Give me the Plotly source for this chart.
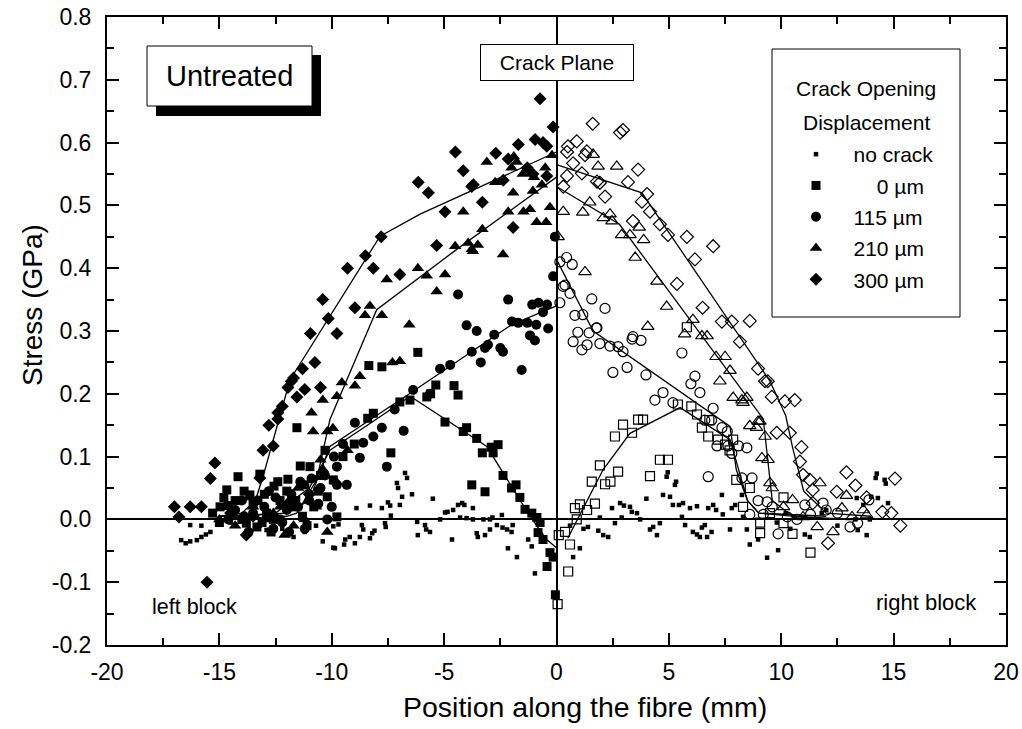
import plotly.graph_objects as go

# ---------------- data ----------------
nc_x = [-16.7,-16.5,-16.3,-16.0,-15.8,-15.6,-15.4,-16.3,-15.8,-12.9,-11.7,-9.93,-14.5,-13.8,-13.2,-12.2,-11.2,-10.7,-10.4,
        -9.93,-9.7,-9.4,-9.2,-9.86,-9.45,-8.97,-8.66,-8.6,-8.75,-8.3,-8.2,-8.1,-8.9,-8.3,-7.77,-7.5,-7.4,-6.97,-6.87,-6.43,
        -7.1,-7.05,-6.74,-6.65,-7.37,-7.63,-7.6,-6.2,-6.17,-5.85,-5.8,-5.63,-5.5,-5.18,-4.96,-4.85,-4.6,-4.38,-4.2,-4.1,
        -4.65,-4.29,-4.0,-3.72,-3.72,-3.55,-3.5,-3.18,-3.25,-2.96,-2.85,-2.96,-2.65,-2.43,-2.4,-2.2,-2.0,-1.95,-2.16,-1.76,
        -1.26,-1.1,-0.96,
        1.04,0.74,0.6,1.2,1.4,1.93,1.86,2.08,2.3,2.47,2.83,3.0,3.27,3.35,3.58,2.9,2.6,3.72,4.0,4.16,4.3,4.47,4.6,4.9,4.95,
        5.27,5.32,4.74,5.05,5.18,5.45,5.63,5.58,5.72,5.94,6.25,6.07,6.25,6.38,6.47,6.6,6.7,6.9,6.75,6.97,7.1,7.36,7.4,7.72,
        7.8,7.95,8.25,8.3,8.47,8.6,9.37,8.97,
        14.25,14.2,14.6,14.65,14.75,14.3,14.0,13.65,13.36,13.94,13.4,13.8,11.27,11.05,11.0,10.6,11.8,12.0,13.3,9.8,9.86,
        10.2,12.5,10.4]
nc_y = [-0.033,-0.038,-0.035,-0.033,-0.028,-0.024,-0.02,-0.009,-0.01,-0.017,-0.028,-0.045,-0.005,0.005,-0.01,-0.015,-0.02,-0.01,-0.035,
        -0.011,-0.008,-0.032,-0.028,-0.046,-0.04,-0.038,-0.009,-0.016,-0.028,-0.03,-0.022,-0.018,0.018,0.022,0.018,0.027,0.022,0.023,0.036,0.04,
        0.058,0.05,0.074,0.066,0.006,-0.006,-0.012,-0.004,-0.025,-0.009,-0.016,-0.02,0.033,0.0,0.011,0.012,0.015,0.023,0.026,0.023,
        -0.032,0.003,0.002,0.0,0.018,-0.022,-0.028,-0.025,0.0,0.0,0.003,-0.016,-0.009,0.007,-0.013,-0.016,-0.02,-0.009,-0.046,-0.06,
        -0.032,-0.043,-0.086,
        -0.046,-0.06,-0.01,-0.015,-0.012,0.003,-0.018,-0.025,-0.028,0.018,0.026,0.022,0.02,0.012,0.01,0.003,-0.006,0.0,0.033,-0.016,-0.012,-0.025,-0.006,0.068,0.075,
        0.055,0.06,0.039,0.036,0.023,0.023,0.026,0.004,-0.009,0.018,0.021,-0.02,-0.024,-0.028,-0.013,-0.009,-0.028,-0.02,0.018,0.023,0.015,0.039,0.008,-0.016,
        0.018,0.023,0.039,0.004,-0.016,-0.04,-0.061,-0.032,
        0.073,0.066,0.063,0.057,0.026,0.034,0.036,0.023,0.034,0.0,-0.017,-0.025,-0.028,-0.024,0.003,0.003,0.01,0.015,0.0,-0.005,-0.049,
        0.01,-0.01,-0.015]

c0L_x = [-6.17,-8.35,-7.77,-5.37,-4.56,-4.38,-5.77,-5.6,-6.52,-6.97,-8.15,-8.4,-4.96,-4.0,-3.55,-2.6,-2.9,-4.15,-3.3,-2.82,-7.37,
         -3.77,-3.18,-2.38,-2.0,-1.8,-1.63,-1.4,-1.1,-0.87,-0.73,-0.82,-0.6,-0.29,-0.42,-0.15,-0.05,
         -11.55,-14.17,-12.57,-11.4,-11.95,-13.2,-14.97,-14.67,-14.3,-13.64,-13.8,-13.33,-12.9,-11.1,-10.97,-10.5,-10.2,-9.93,
         -9.77,-12.3,-11.8,-15.3,-14.0,-12.7,-9.5,-9.0,-10.3,
         -14.8,-14.4,-13.9,-13.5,-13.0,-12.6,-12.0,-11.6,-11.2,-10.8,-10.6,-15.0,-14.6,-13.1,-12.4,-11.3]
c0L_y = [0.266,0.245,0.243,0.214,0.213,0.198,0.195,0.2,0.19,0.187,0.169,0.161,0.155,0.146,0.129,0.119,0.115,0.14,0.106,0.106,0.106,
         0.055,0.044,0.07,0.05,0.055,0.035,0.016,0.01,0.003,-0.005,-0.021,-0.032,-0.053,-0.075,-0.06,-0.12,
         0.146,0.068,0.053,0.085,0.064,0.072,0.02,0.047,0.03,0.039,-0.006,-0.012,0.01,-0.01,0.084,0.07,0.036,0.063,
         0.004,0.03,0.02,0.01,0.0,-0.02,0.1,0.12,0.11,
         0.035,0.01,0.045,0.025,0.04,0.0,0.045,0.03,0.055,0.02,0.045,-0.005,0.022,-0.005,0.06,0.005]
c0R_x = [3.63,3.85,2.96,2.6,3.36,4.6,4.96,1.93,5.4,5.8,6.0,6.25,6.8,6.47,6.75,7.18,7.5,7.86,7.7,2.74,1.57,2.16,2.4,4.16,
         1.04,0.82,1.36,1.71,0.9,0.38,0.6,0.52,0.1,9.06,8.0,8.6,10.1,10.5,11.3,9.06,10.1,0.05,8.3,9.5]
c0R_y = [0.159,0.159,0.151,0.132,0.138,0.095,0.095,0.086,0.183,0.306,0.18,0.167,0.158,0.146,0.132,0.127,0.119,0.127,0.11,0.076,0.06,0.056,0.06,0.069,
         0.024,0.018,0.015,0.025,0.0,-0.02,-0.04,-0.083,-0.025,-0.022,0.063,0.05,0.035,-0.023,-0.053,-0.005,-0.006,-0.135,0.02,0.01]

c115L_x = [-4.38,-2.15,-1.08,-0.8,-0.42,-0.15,-0.6,-1.98,-1.7,-1.3,-0.9,-0.37,-1.18,-0.96,-4.0,-3.55,-2.77,-3.05,-3.18,-2.5,-2.38,
           -3.77,-3.37,-4.73,-5.18,-1.55,-6.38,-7.2,-7.77,-8.15,-8.6,-6.8,-5.63,-8.97,-0.07,-8.75,-7.55,-9.33,-9.77,-9.77,-9.5,
           -9.9,-10.5,-11.0,-11.5,-12.0,-12.5,-13.0,-13.5,-14.0,-10.2,-11.2,-12.2,-13.7,-14.6,-10.0,
           -13.3,-12.8,-12.3,-11.8,-11.4,-10.9,-10.6,-10.3,-12.6,-11.9,-14.3,-13.9]
c115L_y = [0.358,0.35,0.342,0.345,0.342,0.387,0.33,0.315,0.313,0.313,0.31,0.304,0.293,0.285,0.309,0.3,0.294,0.278,0.273,0.273,0.267,
           0.267,0.25,0.246,0.24,0.238,0.206,0.175,0.146,0.132,0.122,0.141,0.2,0.154,0.45,0.098,0.084,0.055,0.055,0.084,0.12,
           0.1,0.05,0.03,0.02,0.015,0.035,0.02,0.01,0.03,0.0,-0.015,-0.005,-0.02,0.0,0.02,
           0.03,0.045,0.0,0.04,0.06,0.065,0.025,0.07,-0.015,-0.02,0.015,0.005]
c115R_x = [0.45,0.7,0.15,0.3,0.6,0.15,1.57,2.16,0.82,1.17,0.95,1.77,3.4,0.38,1.8,1.45,0.74,1.13,1.36,1.93,2.38,2.74,2.96,
           3.36,3.76,2.51,3.14,3.98,5.58,6.16,5.98,6.38,4.74,4.38,5.18,6.97,6.6,6.9,7.36,7.6,7.14,7.63,7.8,8.47,
           6.75,8.1,8.25,8.7,8.6,8.97,9.2,9.37,9.6,9.86,11.05,11.3,11.86,12.5,13.06,13.4,13.9,10.27,12.0,10.7]
c115R_y = [0.417,0.406,0.41,0.371,0.36,0.345,0.351,0.336,0.325,0.326,0.298,0.305,0.291,0.373,0.305,0.297,0.283,0.27,0.278,0.28,0.276,0.275,0.267,
           0.287,0.285,0.234,0.242,0.23,0.265,0.228,0.216,0.202,0.202,0.19,0.186,0.177,0.158,0.158,0.146,0.14,0.117,0.117,0.105,0.114,
           0.068,0.117,0.066,0.066,0.008,0.03,0.008,0.028,0.02,-0.023,0.023,0.008,0.026,0.01,-0.012,-0.006,0.031,0.004,0.015,0.0]

c210L_x = [-7.55,-6.17,-5.77,-4.96,-5.33,-3.72,-2.38,-8.3,-8.52,-7.77,-6.55,-7.3,-6.97,-8.75,-8.97,-9.55,-9.77,
           -3.1,-1.77,-2.73,-1.93,-4.15,-2.15,-1.47,-1.18,-0.29,-0.88,-0.46,-3.3,-4.51,-3.93,-3.5,-3.77,-1.9,-0.65,-1.05,
           -1.0,-0.5,-1.5,-2.0,-0.2,
           -10.4,-10.9,-10.83,-10.2,-9.95,-10.5,-10.4,-14.3,-12.3,-12.1,-11.5,-11.0,-13.0,-10.2,-11.7,-9.8,-13.5,-15.0,-9.3,
           -12.6,-11.9,-11.2,-10.7,-13.7]
c210L_y = [0.382,0.40,0.388,0.39,0.363,0.427,0.422,0.34,0.325,0.325,0.31,0.25,0.252,0.228,0.213,0.218,0.196,
           0.569,0.569,0.537,0.52,0.49,0.49,0.49,0.494,0.497,0.473,0.473,0.462,0.435,0.44,0.437,0.43,0.578,0.533,0.523,
           0.545,0.56,0.55,0.56,0.58,
           0.19,0.17,0.14,0.14,0.145,0.095,0.08,-0.01,0.02,-0.025,0.05,0.03,0.0,-0.02,-0.01,0.06,0.02,0.0,0.11,
           0.01,0.03,0.0,0.02,0.035]
c210R_x = [1.63,1.85,2.68,0.3,1.17,1.48,2.08,2.38,2.47,2.9,3.27,3.68,3.88,3.5,4.47,4.9,4.06,5.7,6.07,0.07,1.27,
           6.47,6.7,7.1,7.5,7.72,7.27,7.86,8.25,8.47,8.3,8.6,8.97,8.9,9.28,9.14,9.41,9.05,
           9.5,9.6,11.72,12.9,10.5,10.1,12.7,12.3,13.65,13.15,10.97,11.6,13.8]
c210R_y = [0.581,0.562,0.562,0.49,0.489,0.505,0.48,0.486,0.475,0.453,0.453,0.465,0.445,0.417,0.379,0.339,0.307,0.295,0.318,0.45,0.394,
           0.292,0.292,0.259,0.259,0.237,0.22,0.194,0.19,0.194,0.186,0.149,0.156,0.146,0.132,0.098,0.095,0.156,
           0.058,0.05,0.058,0.038,0.031,0.02,0.018,-0.02,0.015,0.004,0.004,-0.012,0.007]

c300L_x = [-15.55,-15.2,-15.4,-17.0,-16.8,-16.3,-15.8,-13.8,-13.06,-12.6,-12.8,-12.4,-12.4,-12.2,-11.95,-11.55,-11.8,-11.2,-10.5,-13.2,
           -8.5,-9.3,-8.15,-10.4,-8.97,-10.15,-10.95,-9.77,-10.75,-11.3,-11.7,-6.97,-7.8,
           -0.73,-0.15,-4.5,-2.7,-1.7,-0.95,-0.6,-0.43,-4.15,-2.15,-6.15,-5.7,-3.7,-3.77,-4.96,-3.3,-2.37,-1.3,-1.05,-0.43,
           -1.93,-5.33,-14.5,-13.5,-12.0,-11.0]
c300L_y = [-0.10,0.09,0.065,0.02,0.004,0.02,0.02,-0.025,0.11,0.117,0.15,0.16,0.17,0.18,0.21,0.195,0.22,0.207,0.21,0.066,
           0.42,0.40,0.40,0.35,0.337,0.32,0.296,0.296,0.25,0.24,0.225,0.39,0.45,
           0.67,0.625,0.585,0.583,0.597,0.605,0.6,0.594,0.555,0.574,0.537,0.52,0.533,0.53,0.49,0.505,0.54,0.56,0.55,0.547,
           0.465,0.436,0.01,0.005,0.02,0.04]
c300R_x = [1.61,2.83,2.96,0.9,0.51,0.47,1.27,3.63,3.18,0.74,1.13,4.03,0.3,1.93,1.35,0.47,1.8,3.8,4.16,4.6,4.96,3.4,5.8,6.16,2.16,5.36,
           6.97,6.5,7.36,7.8,8.6,8.16,8.97,9.28,9.4,9.58,10.16,10.6,9.8,10.38,10.9,10.83,10.97,11.27,12.9,12.47,13.3,15.06,
           13.8,14.5,14.9,15.3,12.08,11.4,11.4]
c300R_y = [0.63,0.616,0.62,0.602,0.594,0.585,0.58,0.557,0.537,0.567,0.551,0.518,0.53,0.536,0.586,0.547,0.538,0.506,0.49,0.47,0.453,0.475,0.45,0.414,0.514,0.375,
           0.435,0.337,0.315,0.315,0.316,0.283,0.24,0.22,0.22,0.195,0.188,0.19,0.138,0.138,0.115,0.092,0.071,0.063,0.075,0.044,0.054,0.065,
           0.035,0.012,0.01,-0.01,-0.038,0.047,0.026]

fit0L_x = [-15,-12.5,-11,-10.08,-8,-6.51,-3.1,-2.38,-1.18,-0.44,0]
fit0L_y = [0.0,0.01,0.05,0.11,0.16,0.196,0.116,0.074,0.005,-0.032,-0.045]
fit0R_x = [0.5,2.07,3.27,5.5,7.72,8.5,9,12]
fit0R_y = [-0.03,0.079,0.137,0.178,0.127,0.03,0.01,0.0]
fit115L_x = [-15,-12,-11,-10.08,-6.38,-2.0,0]
fit115L_y = [0.005,0.01,0.03,0.116,0.204,0.31,0.34]
fit115R_x = [0,1.63,7.72,8.0,8.5,9,12]
fit115R_y = [0.414,0.30,0.148,0.079,0.03,0.01,0.005]
fit210L_x = [-15,-12,-11.56,-10.67,-10.08,-8.0,-4.44,0]
fit210L_y = [0.0,0.005,0.01,0.063,0.159,0.334,0.43,0.545]
fit210R_x = [0,2.8,9.2,9.6,10.5,13]
fit210R_y = [0.53,0.47,0.16,0.03,0.005,0.0]
fit300L_x = [-15,-14,-13.4,-13.06,-11.86,-7.85,-6.07,0]
fit300L_y = [0.005,0.01,0.03,0.068,0.222,0.451,0.486,0.585]
fit300R_x = [0,3.8,9.5,10.2,10.5,11,12,14]
fit300R_y = [0.565,0.52,0.22,0.165,0.115,0.045,0.01,0.005]

x_ticks = [-20,-15,-10,-5,0,5,10,15,20]
x_tick_text = ["-20","-15","-10","-5","0","5","10","15","20"]
y_ticks = [-0.2,-0.1,0.0,0.1,0.2,0.3,0.4,0.5,0.6,0.7,0.8]
y_tick_text = ["-0.2","-0.1","0.0","0.1","0.2","0.3","0.4","0.5","0.6","0.7","0.8"]

names = ["no crack", "0 \u00b5m", "115 \u00b5m", "210 \u00b5m", "300 \u00b5m"]

# ---------------- figure ----------------
FONT = "Liberation Sans, Arial, Helvetica, sans-serif"
NB = "\u00a0"
fig = go.Figure()

for fx, fy in [(fit0L_x, fit0L_y), (fit0R_x, fit0R_y), (fit115L_x, fit115L_y), (fit115R_x, fit115R_y),
               (fit210L_x, fit210L_y), (fit210R_x, fit210R_y), (fit300L_x, fit300L_y), (fit300R_x, fit300R_y)]:
    fig.add_trace(go.Scatter(x=fx, y=fy, mode="lines", line=dict(color="black", width=1.3),
                             showlegend=False, hoverinfo="skip"))

pad = NB * 3
legend_names = [pad + names[0], pad + NB * 4 + names[1], pad + names[2], pad + names[3], pad + names[4]]

filled = [(nc_x, nc_y, "square", 4.5), (c0L_x, c0L_y, "square", 9), (c115L_x, c115L_y, "circle", 10),
          (c210L_x, c210L_y, "triangle-up", 11), (c300L_x, c300L_y, "diamond", 10)]
for i, (xs, ys, sym, sz) in enumerate(filled):
    fig.add_trace(go.Scatter(x=xs, y=ys, mode="markers", name=legend_names[i], legendgroup=f"g{i}",
                             marker=dict(symbol=sym, size=sz, color="black", line=dict(width=0))))

opened = [(c0R_x, c0R_y, "square-open", 9), (c115R_x, c115R_y, "circle-open", 10),
          (c210R_x, c210R_y, "triangle-up-open", 11), (c300R_x, c300R_y, "diamond-open", 10)]
for xs, ys, sym, sz in opened:
    fig.add_trace(go.Scatter(x=xs, y=ys, mode="markers", showlegend=False,
                             marker=dict(symbol=sym, size=sz, color="black", line=dict(width=1.2, color="black"))))

W, H = 1022, 729
L, R, T, B = 107, 16, 17, 84
pw, ph = W - L - R, H - T - B

def px(x):
    return (x - L) / pw

def py(y):
    return (H - B - y) / ph

shapes = [
    dict(type="rect", xref="paper", yref="paper", x0=px(156), x1=px(321), y0=py(116), y1=py(55),
         fillcolor="black", line=dict(width=0), layer="above"),
    dict(type="rect", xref="paper", yref="paper", x0=px(147), x1=px(312), y0=py(106), y1=py(46),
         fillcolor="white", line=dict(color="black", width=1), layer="above"),
    dict(type="rect", xref="paper", yref="paper", x0=px(772), x1=px(960), y0=py(317), y1=py(49),
         fillcolor="rgba(0,0,0,0)", line=dict(color="black", width=1), layer="above"),
]

def ann(x, y, text, size, xref="paper", yref="paper", **kw):
    d = dict(xref=xref, yref=yref, x=x, y=y, text=text, showarrow=False, xanchor="center", yanchor="middle",
             font=dict(size=size, color="black", family=FONT))
    d.update(kw)
    return d

annotations = [
    ann(px(229.5), py(76), "Untreated", 29),
    ann(0, 0.728, "Crack Plane", 21, xref="x", yref="y", bgcolor="white", bordercolor="black",
        borderwidth=1, borderpad=0, width=152, height=35),
    ann(px(866), py(88), "Crack Opening", 21),
    ann(px(866), py(122), "Displacement", 21),
    ann(-16.1, -0.139, "left block", 21.5, xref="x", yref="y"),
    ann(16.45, -0.133, "right block", 22, xref="x", yref="y"),
    # axis titles
    ann(px(584.5), py(707), "Position along the fibre (mm)", 28.5),
    ann(px(32), py(305), "Stress (GPa)", 28, textangle=-90),
]

axis_common = dict(showline=True, linecolor="black", linewidth=2, mirror="allticks", ticks="inside",
                   ticklen=12, tickwidth=1.5, tickcolor="black", showgrid=False, automargin=False,
                   tickfont=dict(size=23, color="black", family=FONT), zeroline=True,
                   zerolinecolor="black", zerolinewidth=2)

fig.update_layout(
    width=W, height=H, margin=dict(l=L, r=R, t=T, b=B, autoexpand=False),
    paper_bgcolor="white", plot_bgcolor="white",
    font=dict(family=FONT, color="black"),
    shapes=shapes, annotations=annotations,
    legend=dict(x=px(796), y=py(134), xanchor="left", yanchor="top", bgcolor="rgba(0,0,0,0)",
                borderwidth=0, font=dict(size=21, color="black", family=FONT),
                tracegroupgap=1, traceorder="grouped"),
    xaxis=dict(range=[-20, 20], tickmode="array", tickvals=x_ticks, ticktext=x_tick_text,
               ticklabelstandoff=5,
               minor=dict(ticks="inside", ticklen=7, tickwidth=1.5, tickcolor="black", dtick=2.5, tick0=0),
               **axis_common),
    yaxis=dict(range=[-0.2, 0.8], tickmode="array", tickvals=y_ticks, ticktext=y_tick_text,
               ticklabelstandoff=9,
               minor=dict(ticks="inside", ticklen=7, tickwidth=1.5, tickcolor="black", dtick=0.05, tick0=0),
               **axis_common),
)

fig.write_html("out.html")
